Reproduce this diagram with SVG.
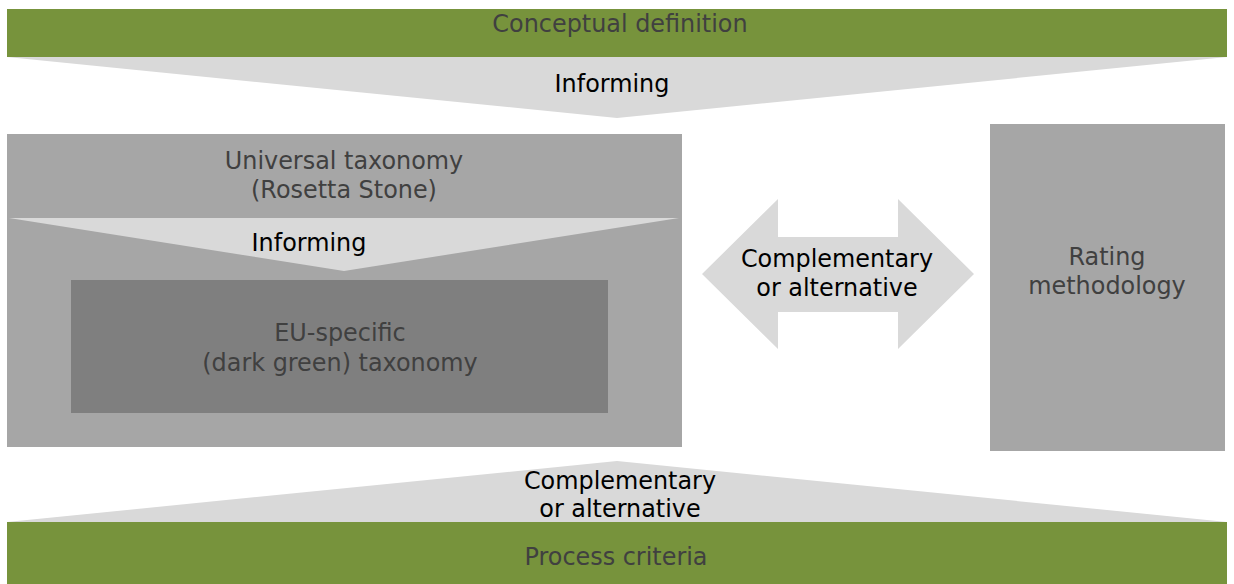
<svg xmlns="http://www.w3.org/2000/svg" width="1234" height="584" viewBox="0 0 1234 584">
<style>
.t{font-family:"DejaVu Sans","Liberation Sans",sans-serif;font-size:23.9px;text-anchor:middle}
.dk{fill:#404040}
.bk{fill:#000}
.green{fill:#77933C}
.lt{fill:#D9D9D9}
.mid{fill:#A6A6A6}
.drk{fill:#7F7F7F}
</style>
<rect width="1234" height="584" fill="#fff"/>
<g id="conceptual">
<rect class="green" x="7" y="9" width="1220" height="48"/>
<text class="t dk" x="620" y="32">Conceptual definition</text>
</g>
<g id="process">
<rect class="green" x="7" y="522" width="1220" height="62"/>
<text class="t dk" x="616" y="565">Process criteria</text>
</g>
<g id="universal">
<rect class="mid" x="7" y="134" width="675" height="313"/>
<text class="t dk" x="344" y="169">Universal taxonomy</text>
<text class="t dk" x="344" y="198">(Rosetta Stone)</text>
</g>
<g id="eu">
<rect class="drk" x="71" y="280" width="537" height="133"/>
<text class="t dk" x="340" y="341">EU-specific</text>
<text class="t dk" x="340" y="371">(dark green) taxonomy</text>
</g>
<g id="rating">
<rect class="mid" x="990" y="124" width="235" height="327"/>
<text class="t dk" x="1107" y="265">Rating</text>
<text class="t dk" x="1107" y="294">methodology</text>
</g>
<g id="connectors">
<g id="c1">
<polygon class="lt" points="7,57 1227,57 617,118"/>
<text class="t bk" x="612" y="92">Informing</text>
</g>
<g id="c2">
<polygon class="lt" points="9,218 679,218 344,271"/>
<text class="t bk" x="309" y="251">Informing</text>
</g>
<g id="c3">
<polygon class="lt" points="702,274 778,199 778,237 898,237 898,199 974,274 898,349 898,312 778,312 778,349"/>
<text class="t bk" x="837" y="267">Complementary</text>
<text class="t bk" x="837" y="296">or alternative</text>
</g>
<g id="c4">
<polygon class="lt" points="7,522 1227,522 617,461"/>
<text class="t bk" x="620" y="489">Complementary</text>
<text class="t bk" x="620" y="517">or alternative</text>
</g>
</g>
</svg>
